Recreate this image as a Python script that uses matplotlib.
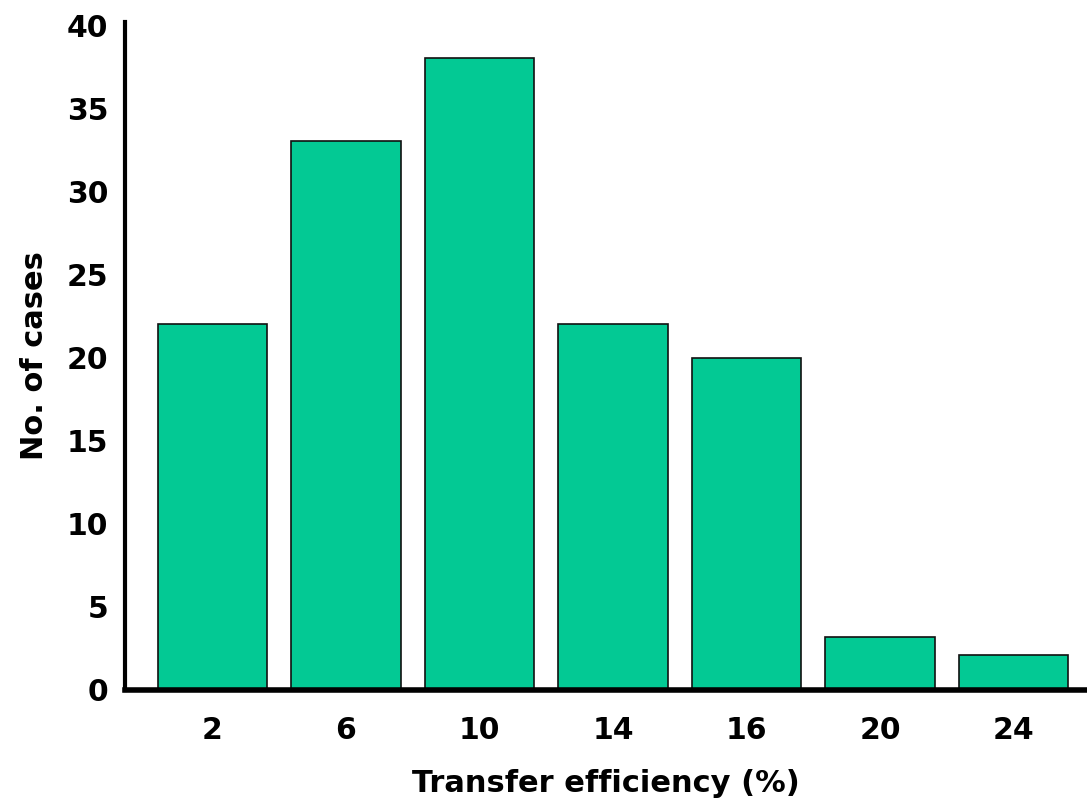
import numpy as np
import matplotlib.pyplot as plt

plt.rcParams['font.family'] = ['DejaVu Sans']
plt.rcParams['font.weight'] = 'bold'

categories = ['2', '6', '10', '14', '16', '20', '24']
cases = [22, 33, 38, 22, 20, 3.2, 2.1]

fig = plt.figure(figsize=(10.87, 8.06), dpi=100)
ax = fig.add_axes([0.115, 0.144, 0.885, 0.829])

ind = np.arange(len(categories))
ax.bar(ind, cases, width=0.82, color='#03c994', edgecolor='#111111', linewidth=1.2)

ax.set_xlim(-0.655, 6.55)
ax.set_ylim(0, 40.2)
ax.set_yticks(np.arange(0, 41, 5))
ax.set_xticks(ind)
ax.set_xticklabels(categories)
ax.tick_params(length=0, labelsize=21.5)
ax.tick_params(axis='x', pad=19)
ax.tick_params(axis='y', pad=12)

for s in ['top', 'right']:
    ax.spines[s].set_visible(False)
ax.spines['left'].set_linewidth(3)
ax.spines['bottom'].set_linewidth(4)

ax.set_xlabel('Transfer efficiency (%)', fontsize=22, fontweight='bold', labelpad=17)
ax.set_ylabel('No. of cases', fontsize=22, fontweight='bold', labelpad=13)

plt.savefig('out.png', dpi=100)
